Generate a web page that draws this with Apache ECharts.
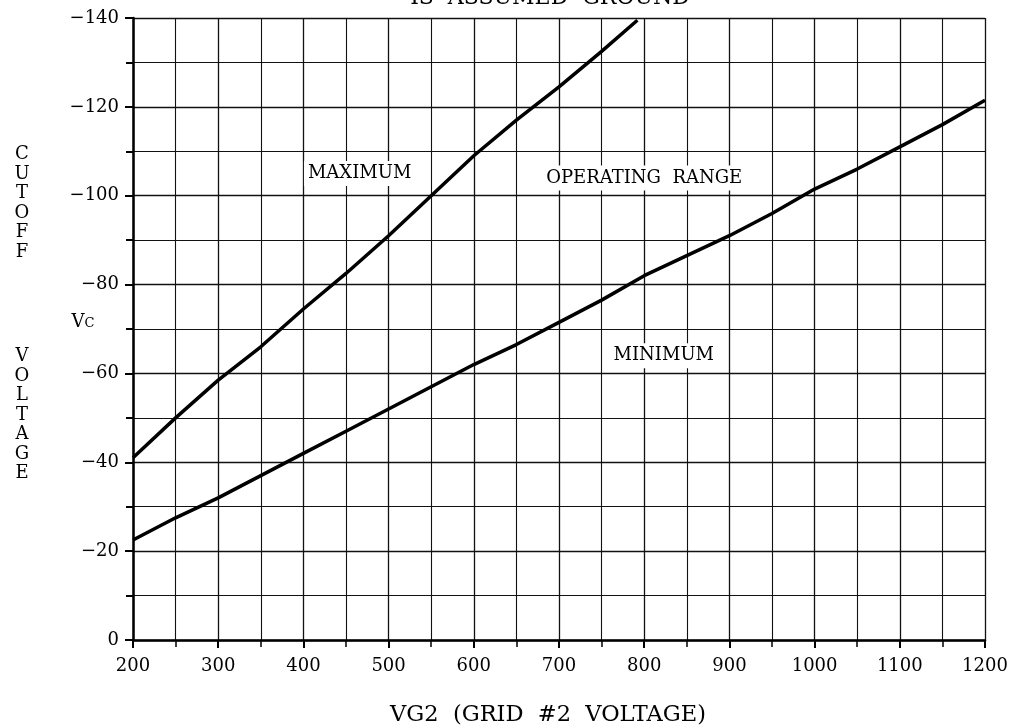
<!DOCTYPE html>
<html>
<head>
<meta charset="utf-8">
<script src="https://cdn.jsdelivr.net/npm/echarts@6/dist/echarts.min.js"></script>
<style>
html,body{margin:0;padding:0;background:#fff;}
#chart{width:1014px;height:726px;}
</style>
</head>
<body>
<div id="chart"></div>
<script>
// Screen grid #2 voltage (V)
const maxX = [200, 250, 300, 350, 400, 450, 500, 550, 600, 650, 700, 750, 792];
const maxY = [-41, -50, -58.5, -66, -74.5, -82.5, -91, -100, -109, -117, -124.5, -132.5, -139.5];
const minX = [200, 250, 300, 350, 400, 450, 500, 550, 600, 650, 700, 750, 800, 850, 900, 950, 1000, 1050, 1100, 1150, 1200];
const minY = [-22.5, -27.5, -32, -37, -42, -47, -52, -57, -62, -66.5, -71.5, -76.5, -82, -86.5, -91, -96, -101.5, -106, -111, -116, -121.5];
const noteText = ['MAXIMUM', 'OPERATING  RANGE', 'MINIMUM'];
const noteX = [466, 800, 823];
const noteY = [-105, -104, -64];
const xTickValues = [200, 300, 400, 500, 600, 700, 800, 900, 1000, 1100, 1200];
const yTickValues = [0, -20, -40, -60, -80, -100, -120, -140];
const titleText = 'IS  ASSUMED  GROUND';
const xAxisTitle = 'VG2  (GRID  #2  VOLTAGE)';
const yAxisWord1 = ['C', 'U', 'T', 'O', 'F', 'F'];
const yAxisWord2 = ['V', 'O', 'L', 'T', 'A', 'G', 'E'];

const FONT = '"DejaVu Serif", "Liberation Serif", serif';
const ink = '#000';

const chart = echarts.init(document.getElementById('chart'), null, {renderer: 'canvas'});

const maxData = maxX.map((x, i) => [x, maxY[i]]);
const minData = minX.map((x, i) => [x, minY[i]]);
const noteData = noteText.map((t, i) => ({value: [noteX[i], noteY[i]], name: t}));

const option = {
  backgroundColor: '#fff',
  animation: false,
  grid: {left: 133, right: 29, top: 18, bottom: 86, containLabel: false},
  xAxis: {
    type: 'value', min: 200, max: 1200, interval: 100,
    minorTick: {show: true, splitNumber: 2, length: 7, lineStyle: {color: ink, width: 1.5}},
    minorSplitLine: {show: true, lineStyle: {color: '#111', width: 1.1}},
    splitLine: {show: true, lineStyle: {color: '#111', width: 1.3}},
    axisLine: {show: true, onZero: false, lineStyle: {color: ink, width: 2.5}},
    axisTick: {show: true, length: 8, lineStyle: {color: ink, width: 2}},
    axisLabel: {
      margin: 17, color: ink, fontFamily: FONT, fontSize: 18,
      formatter: v => (xTickValues.indexOf(v) >= 0 ? String(v) : '')
    }
  },
  yAxis: {
    type: 'value', min: -140, max: 0, interval: 20, inverse: true,
    minorTick: {show: true, splitNumber: 2, length: 7, lineStyle: {color: ink, width: 2}},
    minorSplitLine: {show: true, lineStyle: {color: '#111', width: 1.1}},
    splitLine: {show: true, lineStyle: {color: '#111', width: 1.3}},
    axisLine: {show: true, onZero: false, lineStyle: {color: ink, width: 2.5}},
    axisTick: {show: true, length: 8, lineStyle: {color: ink, width: 2}},
    axisLabel: {
      margin: 14, color: ink, fontFamily: FONT, fontSize: 18,
      formatter: v => (yTickValues.indexOf(v) < 0 ? '' : (v === 0 ? '0' : '\u2212' + Math.abs(v)))
    }
  },
  series: [
    {
      name: 'MAXIMUM', type: 'line', data: maxData, showSymbol: false, symbol: 'none',
      lineStyle: {color: '#000', width: 3.5}, z: 5, clip: false
    },
    {
      name: 'MINIMUM', type: 'line', data: minData, showSymbol: false, symbol: 'none',
      lineStyle: {color: '#000', width: 3.5}, z: 5, clip: false
    },
    {
      name: 'notes', type: 'scatter', data: noteData, symbolSize: 0, z: 6,
      itemStyle: {opacity: 1},
      emphasis: {disabled: true},
      label: {
        show: true, position: 'inside', formatter: p => p.name, opacity: 1,
        color: '#000', fontFamily: FONT, fontSize: 18, textBorderWidth: 0,
        backgroundColor: '#fff', padding: [4, 4, 3, 4]
      }
    }
  ],
  graphic: [
    {type: 'text', x: 550, y: 9, style: {text: titleText, font: '22px ' + FONT, fill: ink, textAlign: 'center', textVerticalAlign: 'bottom'}},
    {type: 'text', x: 548, y: 715, style: {text: xAxisTitle, font: '22.5px ' + FONT, fill: ink, textAlign: 'center', textVerticalAlign: 'middle'}},
    {type: 'text', x: 22, y: 145, style: {text: yAxisWord1.join('\n'), font: '18px ' + FONT, lineHeight: 19.5, fill: ink, textAlign: 'center', textVerticalAlign: 'top'}},
    {type: 'text', x: 22, y: 347, style: {text: yAxisWord2.join('\n'), font: '18px ' + FONT, lineHeight: 19.5, fill: ink, textAlign: 'center', textVerticalAlign: 'top'}},
    {type: 'text', x: 83, y: 322, style: {
      text: '{a|V}{b|C}', textAlign: 'center', textVerticalAlign: 'middle',
      rich: {a: {fontFamily: FONT, fontSize: 18, color: ink}, b: {fontFamily: FONT, fontSize: 13, color: ink, padding: [3, 0, 0, 0]}}
    }}
  ]
};
chart.setOption(option);
</script>
</body>
</html>
